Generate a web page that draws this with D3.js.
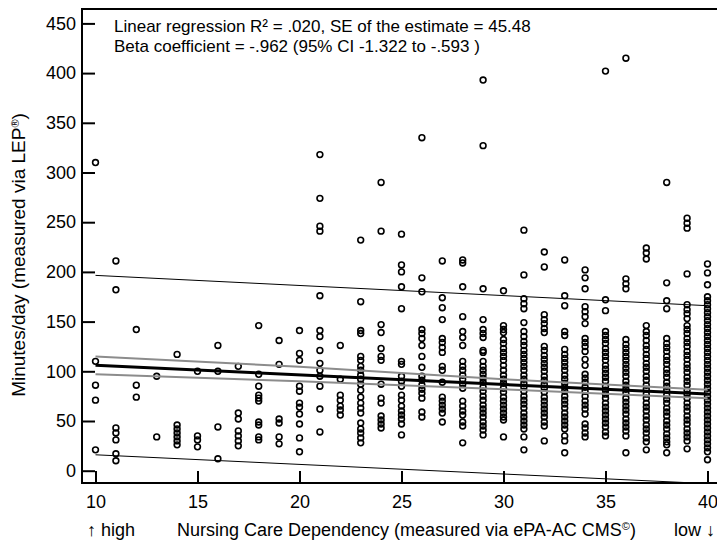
<!DOCTYPE html>
<html>
<head>
<meta charset="utf-8">
<script src="https://cdn.jsdelivr.net/npm/d3@7"></script>
<style>
body { margin: 0; background: #fff; }
svg { display: block; font-family: "Liberation Sans", Arial, Helvetica, sans-serif; }
</style>
</head>
<body>
<div id="chart"></div>
<script>
const width = 717;
const height = 544;

// nursing care dependency score (x) and the minutes/day observed at each score
const careScores = [10, 11, 12, 13, 14, 15, 16, 17, 18, 19, 20, 21, 22, 23, 24, 25,
    26, 27, 28, 29, 30, 31, 32, 33, 34, 35, 36, 37, 38, 39, 40];
const minutesByScore = [
    [310, 110, 86, 71, 21],
    [211, 182, 43, 38, 31, 17, 10],
    [142, 86, 74],
    [95, 34],
    [117, 46, 42, 38, 34, 30, 26],
    [100, 35, 31, 24],
    [126, 100, 44, 12],
    [105, 58, 52, 40, 35, 30, 25],
    [146, 97, 85, 76, 73, 70, 49, 46, 34, 31],
    [131, 107, 52, 48, 34, 27],
    [141, 118, 111, 85, 80, 68, 64, 57, 47, 33, 19],
    [318, 274, 246, 241, 176, 141, 135, 121, 108, 101, 95, 85, 62, 39],
    [126, 92, 76, 71, 65, 61, 56],
    [232, 170, 141, 138, 115, 111, 105, 101, 96, 92, 87, 81, 74, 68, 63, 58, 48, 42, 38, 33, 28],
    [290, 241, 147, 139, 123, 115, 111, 87, 73, 68, 55, 51, 47, 43],
    [238, 207, 200, 185, 163, 110, 107, 95, 90, 85, 76, 71, 65, 60, 56, 52, 47, 36],
    [335, 194, 180, 142, 138, 133, 126, 115, 104, 95, 91, 86, 82, 78, 73, 59, 54],
    [211, 174, 164, 152, 133, 129, 124, 119, 105, 101, 89, 74, 70, 66, 62, 58, 49],
    [212, 209, 185, 155, 140, 134, 126, 110, 105, 101, 96, 92, 87, 83, 70, 65, 60, 56, 49, 45, 28],
    [393, 327, 183, 152, 142, 138, 134, 121, 119, 110, 105, 101, 97, 93, 89, 84, 80, 75, 71, 66, 62, 58, 54, 49, 45, 41, 36],
    [181, 146, 142, 139, 132, 128, 123, 119, 115, 111, 106, 101, 96, 92, 88, 83, 79, 74, 70, 66, 62, 58, 54, 51, 34],
    [242, 197, 173, 168, 163, 149, 140, 135, 130, 126, 121, 117, 113, 109, 105, 101, 96, 92, 88, 84, 80, 75, 71, 67, 63, 58, 54, 50, 46, 42, 34, 21],
    [220, 205, 157, 152, 148, 143, 139, 125, 121, 116, 112, 108, 104, 100, 95, 91, 87, 83, 79, 74, 70, 66, 62, 58, 54, 49, 45, 30],
    [212, 176, 166, 140, 136, 122, 117, 113, 109, 105, 101, 96, 92, 88, 84, 80, 75, 71, 67, 63, 58, 54, 50, 46, 42, 35, 30, 18],
    [202, 194, 183, 165, 160, 155, 148, 133, 129, 125, 120, 112, 106, 97, 93, 89, 84, 80, 75, 70, 66, 62, 57, 47, 43, 38, 34],
    [402, 172, 161, 140, 136, 132, 128, 123, 119, 115, 111, 106, 102, 98, 94, 90, 85, 81, 77, 73, 68, 64, 60, 56, 52, 48, 44, 39, 35],
    [415, 193, 188, 183, 132, 127, 123, 119, 115, 111, 107, 103, 99, 95, 90, 86, 82, 78, 73, 69, 65, 61, 57, 52, 48, 44, 40, 35, 18],
    [224, 219, 213, 146, 140, 136, 131, 126, 122, 117, 113, 108, 104, 100, 95, 91, 86, 82, 77, 73, 68, 64, 60, 55, 51, 46, 42, 38, 33, 29, 21],
    [290, 189, 171, 163, 133, 128, 124, 120, 115, 111, 107, 102, 98, 94, 89, 85, 81, 76, 72, 68, 63, 59, 55, 50, 46, 42, 37, 33, 29, 26, 18],
    [254, 249, 244, 198, 167, 162, 158, 153, 146, 142, 138, 133, 129, 125, 120, 116, 112, 107, 103, 99, 94, 90, 86, 81, 77, 73, 68, 64, 60, 55, 51, 47, 42, 38, 34, 30, 22],
    [208, 199, 187, 175, 171, 167, 163, 159, 155, 151, 147, 143, 139, 135, 131, 127, 123, 119, 115, 111, 107, 103, 99, 95, 91, 87, 83, 79, 75, 71, 67, 63, 59, 55, 51, 47, 43, 39, 35, 31, 27, 23, 19, 11]
];

// regression line, 95% CI of the mean and prediction band
const fitLine = [[10, 106], [40, 77.2]];
const ciUpper = [[10, 115], [20, 104.5], [30, 92], [40, 81.5]];
const ciLower = [[10, 97], [20, 90], [30, 82], [40, 73]];
const predUpper = [[10, 196.5], [40, 166]];
const predLower = [[10, 16], [40, -13]];

const xTicks = [10, 15, 20, 25, 30, 35, 40];
const yTicks = [0, 50, 100, 150, 200, 250, 300, 350, 400, 450];

const statLines = [
    "Linear regression R² = .020, SE of the estimate = 45.48",
    "Beta coefficient = -.962 (95% CI -1.322 to -.593 )"
];

const box = {left: 82, top: 9, right: 718, bottom: 483};

const svg = d3.select("#chart").append("svg")
    .attr("width", width)
    .attr("height", height);

const x = d3.scaleLinear().domain([10, 40]).range([95.5, 707.5]);
const y = d3.scaleLinear().domain([0, 450]).range([470.7, 23.4]);

svg.append("clipPath").attr("id", "plotclip")
  .append("rect")
    .attr("x", box.left).attr("y", box.top)
    .attr("width", box.right - box.left).attr("height", box.bottom - box.top);

// points
const points = [];
careScores.forEach((s, i) => minutesByScore[i].forEach(m => points.push([s, m])));

const plot = svg.append("g").attr("clip-path", "url(#plotclip)");

const line = d3.line().x(d => x(d[0])).y(d => y(d[1]));

plot.append("path").datum(predUpper)
    .attr("d", line).attr("fill", "none").attr("stroke", "#000").attr("stroke-width", 1);
plot.append("path").datum(predLower)
    .attr("d", line).attr("fill", "none").attr("stroke", "#000").attr("stroke-width", 1);

plot.selectAll("circle")
    .data(points)
    .join("circle")
    .attr("cx", d => x(d[0]))
    .attr("cy", d => y(d[1]))
    .attr("r", 2.9)
    .attr("fill", "none")
    .attr("stroke", "#000")
    .attr("stroke-width", 1.6);

[ciUpper, ciLower].forEach(d => {
    plot.append("path").datum(d)
        .attr("d", line).attr("fill", "none").attr("stroke", "#8c8c8c").attr("stroke-width", 2);
});
plot.append("path").datum(fitLine)
    .attr("d", line).attr("fill", "none").attr("stroke", "#000").attr("stroke-width", 3);

// axes
const yAxis = svg.append("g")
    .attr("transform", `translate(${box.left},0)`)
    .call(d3.axisLeft(y).tickValues(yTicks).tickSize(-13).tickPadding(6));
const xAxis = svg.append("g")
    .attr("transform", `translate(0,${box.bottom})`)
    .call(d3.axisBottom(x).tickValues(xTicks).tickSize(-12).tickPadding(12));

[yAxis, xAxis].forEach(a => {
    a.select(".domain").remove();
    a.selectAll(".tick line").attr("stroke", "#000").attr("stroke-width", 2);
    a.selectAll(".tick text").attr("fill", "#000").style("font-family", "inherit");
});
yAxis.selectAll(".tick text").style("font-size", "18px");
xAxis.selectAll(".tick text").style("font-size", "18px");

// frame
svg.append("rect")
    .attr("x", box.left).attr("y", box.top)
    .attr("width", box.right - box.left).attr("height", box.bottom - box.top)
    .attr("fill", "none").attr("stroke", "#000").attr("stroke-width", 2);

// statistics text
svg.selectAll(".stat")
    .data(statLines)
    .join("text")
    .attr("class", "stat")
    .attr("x", 114)
    .attr("y", (d, i) => 32 + i * 20)
    .style("font-size", "17px")
    .text(d => d);

// axis titles
const yTitle = svg.append("text")
    .attr("transform", "translate(25,255) rotate(-90)")
    .attr("text-anchor", "middle")
    .style("font-size", "19px")
    .text("Minutes/day (measured via LEP");
yTitle.append("tspan").attr("baseline-shift", "super").style("font-size", "11px").text("®");
yTitle.append("tspan").text(")");

svg.append("text")
    .attr("x", 87).attr("y", 536)
    .style("font-size", "18px")
    .text("↑ high");
const xTitle = svg.append("text")
    .attr("x", 177).attr("y", 536)
    .style("font-size", "18px")
    .text("Nursing Care Dependency (measured via ePA-AC CMS");
xTitle.append("tspan").attr("baseline-shift", "super").style("font-size", "11px").text("©");
xTitle.append("tspan").text(")");
svg.append("text")
    .attr("x", 674).attr("y", 536)
    .style("font-size", "18px")
    .text("low ↓");
</script>
</body>
</html>
